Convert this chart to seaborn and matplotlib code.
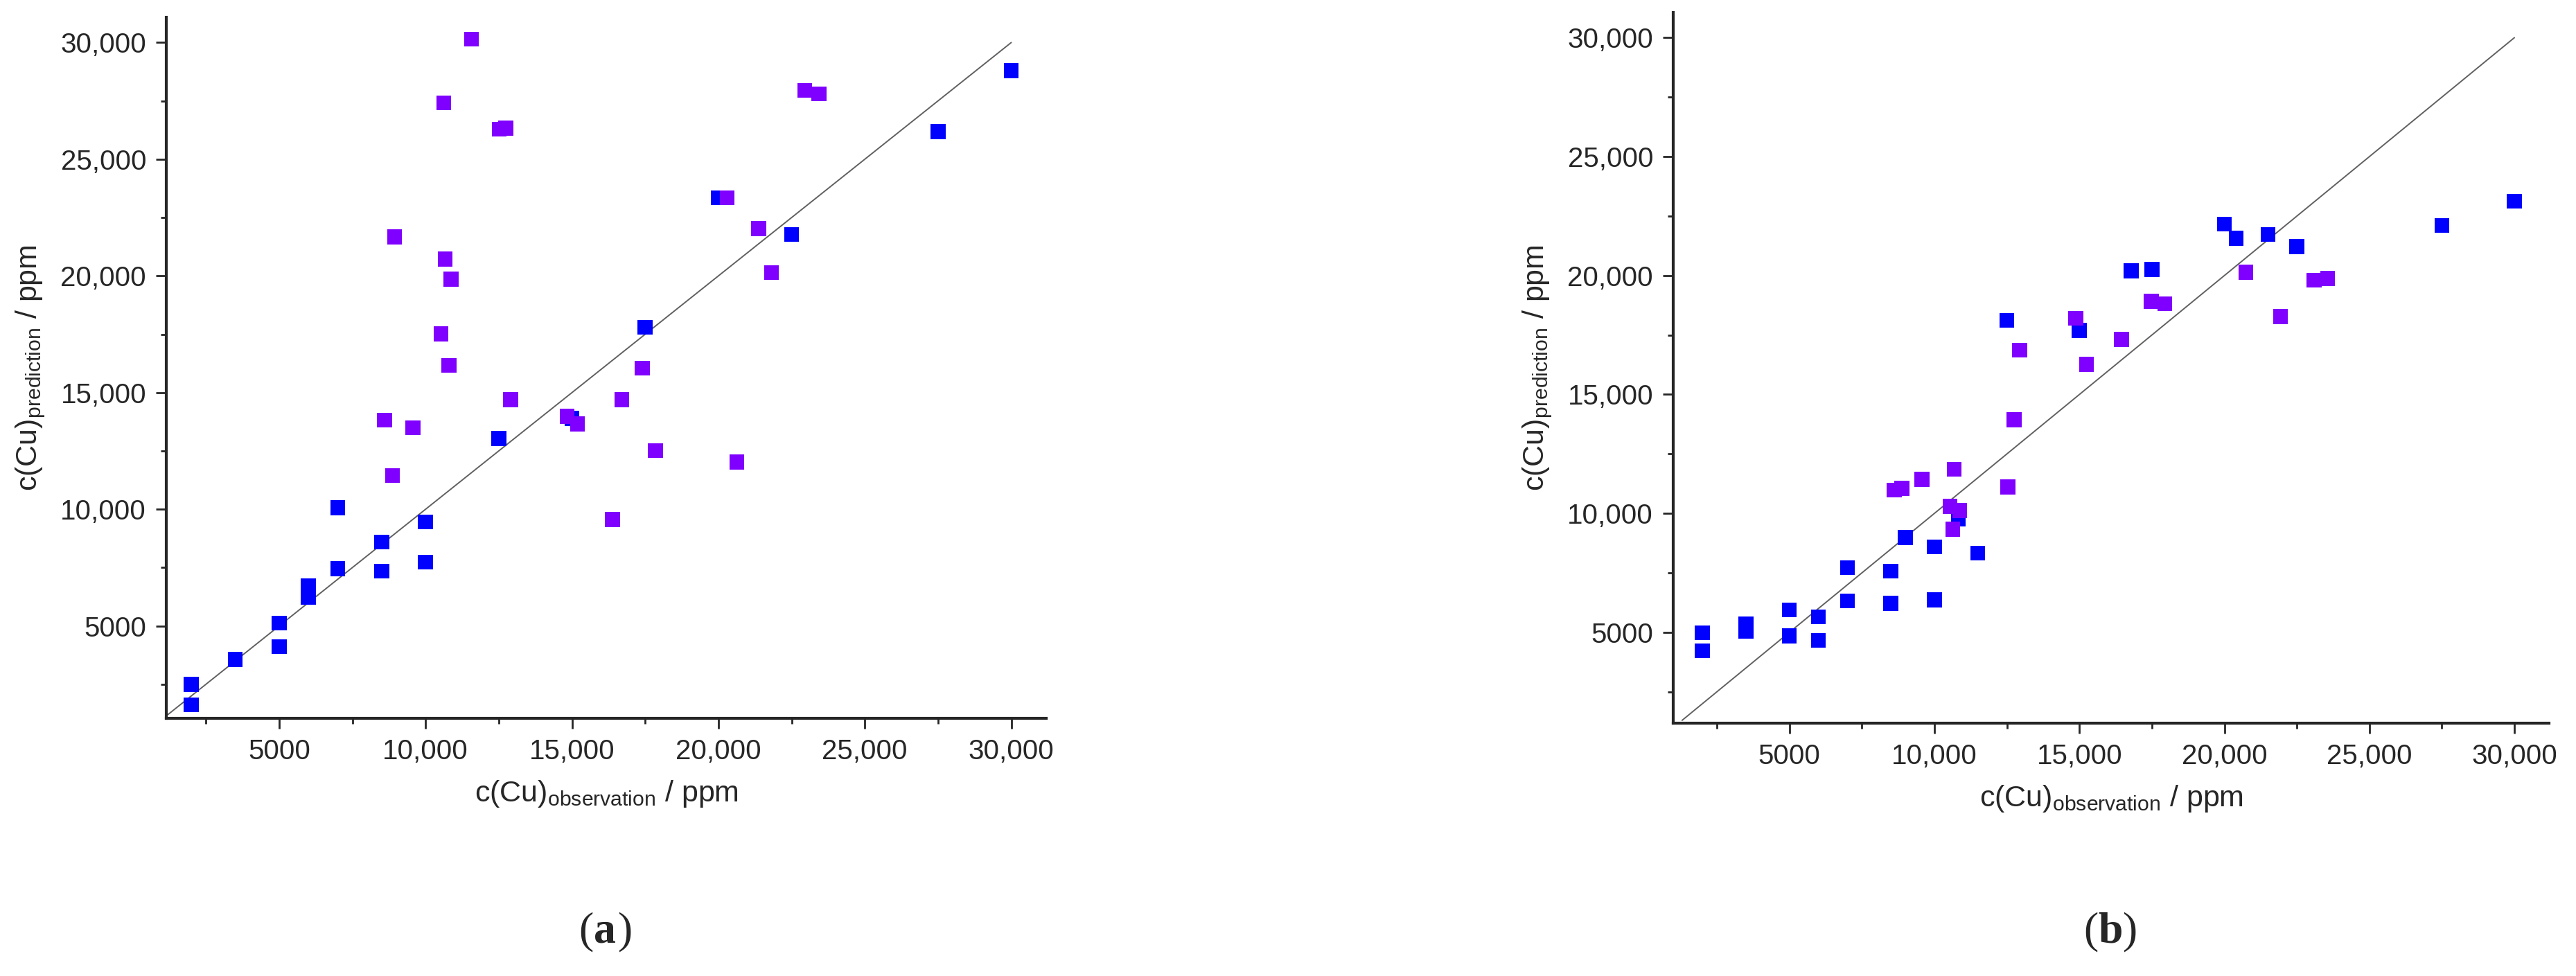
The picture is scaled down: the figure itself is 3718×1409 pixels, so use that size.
import numpy as np
import pandas as pd
import matplotlib
matplotlib.use('Agg')
import matplotlib.pyplot as plt
import seaborn as sns
from matplotlib.ticker import FuncFormatter, MultipleLocator

# panel (a) values
a_blue_x = [2000, 2000, 3500, 5000, 5000, 6000, 6000, 7000, 7000, 8500, 8500, 10000, 10000,
            12500, 15000, 17500, 20000, 22500, 27500, 30000]
a_blue_y = [2500, 1620, 3560, 5120, 4120, 6720, 6230, 10070, 7450, 8600, 7350, 9460, 7740,
            13040, 13900, 17800, 23350, 21770, 26190, 28790]
a_purple_x = [11570, 10620, 12520, 12740, 8940, 10670, 10870, 10530, 10800, 8600, 9570, 8870,
              12900, 14830, 15190, 16700, 17850, 20630, 16380, 17400, 22950, 23430, 20300,
              21370, 21815]
a_purple_y = [30150, 27410, 26290, 26330, 21670, 20720, 19860, 17520, 16170, 13820, 13500, 11450,
              14700, 13990, 13660, 14690, 12520, 12030, 9560, 16050, 27950, 27800, 23350,
              22020, 20140]

# panel (b)
b_blue_x = [2000, 2000, 3500, 3500, 5000, 5000, 6000, 6000, 7000, 7000, 8500, 8500, 9000,
            10000, 10000, 10830, 11500, 12500, 15000, 16790, 17500, 20000, 20400, 21500,
            22500, 27500, 30000]
b_blue_y = [4980, 4230, 5350, 5050, 5950, 4850, 5650, 4660, 7720, 6325, 7580, 6220, 8990,
            8600, 6360, 9760, 8335, 18110, 17690, 20200, 20250, 22170, 21560, 21720,
            21220, 22100, 23120]
b_purple_x = [8610, 8880, 9575, 10680, 10540, 10870, 10630, 12530, 12750, 12940, 14870, 15250,
              16450, 17480, 17940, 20740, 21930, 23090, 23560]
b_purple_y = [10980, 11050, 11430, 11860, 10300, 10120, 9330, 11110, 13940, 16870, 18200, 16260,
              17320, 18910, 18820, 20140, 18280, 19810, 19870]

tick_values = [5000, 10000, 15000, 20000, 25000, 30000]

sns.set_style("ticks")
plt.rcParams['font.family'] = ['Liberation Sans', 'DejaVu Sans']
plt.rcParams['mathtext.fontset'] = 'custom'
plt.rcParams['mathtext.rm'] = 'Liberation Sans'
plt.rcParams['mathtext.it'] = 'Liberation Sans'


def fmt(v, pos):
    if v < 10000:
        return '%d' % v
    return '{:,}'.format(int(v))


def make_df(bx, by, px, py):
    df_b = pd.DataFrame({'obs': bx, 'pred': by, 'set': 'blue'})
    df_p = pd.DataFrame({'obs': px, 'pred': py, 'set': 'purple'})
    return pd.concat([df_b, df_p], ignore_index=True)


def draw_panel(ax, df, xlim, ylim, line_start, caption):
    ax.plot([line_start, 30000], [line_start, 30000], color='#606060', lw=1.4, zorder=1)
    sns.scatterplot(data=df, x='obs', y='pred', hue='set', palette={'blue': '#0000FF', 'purple': '#7F00FF'},
                    marker='s', s=240, linewidth=0, legend=False, ax=ax, zorder=2)
    ax.set_xlim(xlim)
    ax.set_ylim(ylim)
    ax.set_xticks(tick_values)
    ax.set_yticks(tick_values)
    ax.xaxis.set_minor_locator(MultipleLocator(2500))
    ax.yaxis.set_minor_locator(MultipleLocator(2500))
    ax.xaxis.set_major_formatter(FuncFormatter(fmt))
    ax.yaxis.set_major_formatter(FuncFormatter(fmt))
    ax.tick_params(which='major', length=11, width=2, labelsize=29, direction='out', pad=10)
    ax.tick_params(which='minor', length=6, width=2, direction='out')
    for side in ['top', 'right']:
        ax.spines[side].set_visible(False)
    for side in ['left', 'bottom']:
        ax.spines[side].set_linewidth(3)
    ax.set_xlabel(r'c(Cu)$_{\mathrm{observation}}$ / ppm', fontsize=31, labelpad=14)
    ax.set_ylabel(r'c(Cu)$_{\mathrm{prediction}}$ / ppm', fontsize=31, labelpad=14)
    pos = ax.get_position()
    ax.figure.text(pos.x0 + pos.width * 0.5 - 0.005, 0.045, '(', fontsize=46, ha='right', va='center',
                   family='Liberation Serif')
    ax.figure.text(pos.x0 + pos.width * 0.5 - 0.005, 0.045, caption, fontsize=46, ha='left', va='center',
                   family='Liberation Serif', fontweight='bold')
    ax.figure.text(pos.x0 + pos.width * 0.5 + 0.0045, 0.045, ')', fontsize=46, ha='left', va='center',
                   family='Liberation Serif')


fig = plt.figure(figsize=(37.18, 14.09), dpi=100)
ax_a = fig.add_axes([0.0646, 0.264, 0.3416, 0.718])
ax_b = fig.add_axes([0.6496, 0.259, 0.340, 0.728])

draw_panel(ax_a, make_df(a_blue_x, a_blue_y, a_purple_x, a_purple_y), (1150, 31200), (1040, 31070), 1200, 'a')
draw_panel(ax_b, make_df(b_blue_x, b_blue_y, b_purple_x, b_purple_y), (1000, 31200), (1180, 31050), 1300, 'b')

plt.savefig('out.png', dpi=100)
